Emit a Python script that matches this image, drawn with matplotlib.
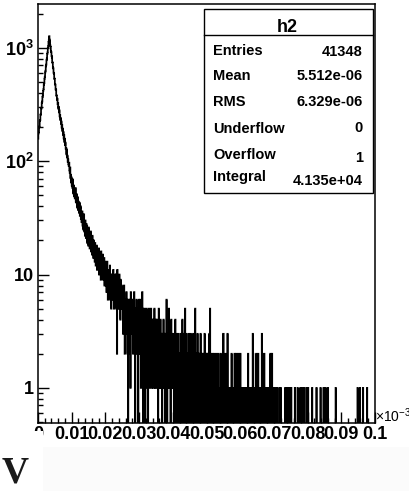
"""ROOT style log histogram h2 with its statistics box."""

import matplotlib

matplotlib.use("Agg")

import matplotlib.pyplot as plt
import numpy as np
from matplotlib.lines import Line2D
from matplotlib.patches import Rectangle
from matplotlib.ticker import FixedLocator, LogLocator, MultipleLocator, NullFormatter

W, H = 410, 491

# h2: 1000 bins between 0 and 0.1 (x10^-3), contents
HEAD_COUNTS = [
    158, 176, 181, 199, 204, 226, 231, 256, 262, 289, 297, 327, 336, 369, 381, 418, 432, 474, 489, 535,
    556, 607, 629, 688, 712, 779, 806, 882, 913, 996, 1032, 1131, 1172, 1268,
    1183, 1139, 1052, 1021, 941, 917, 849, 823, 751, 737, 671, 660, 603, 592, 538, 531, 479, 474, 430, 428, 381, 379,
    349, 356, 318, 327, 291, 302, 270, 281, 249,
    256, 231, 240, 214, 224, 198, 209, 185, 194, 171, 181, 159, 170, 148, 158, 139,
    146, 129, 131, 115, 127, 108, 112, 99, 104, 94, 91, 97, 83, 79, 88, 71, 76, 65,
    72, 61, 63, 58, 69, 52, 55, 61, 49, 57, 47, 53, 58, 44, 50, 43, 51, 39, 47, 48, 37, 44, 41, 35, 43, 33, 38, 40, 31, 36, 29, 34,
    36, 27, 33, 25, 31, 34, 24, 29, 22, 30, 26, 21, 28, 23, 27, 19, 25, 22, 18, 26, 20, 23, 17, 22, 19, 24, 16, 21, 18, 15, 22, 17, 19, 14,
    20, 15, 18, 13, 19, 16, 12, 17, 14, 18, 11, 15, 16, 12, 14, 17, 10, 13, 15, 11, 14, 9, 16, 12, 10, 13, 11, 15, 9, 12, 10, 14, 8, 11, 13,
    12, 8, 10, 7, 11, 13, 9, 6, 10, 8, 11, 7, 9, 12, 6, 8, 10, 5, 9, 7,
    10, 6, 8, 11, 7, 5, 9, 8, 6, 10, 8, 10, 5, 9, 2, 11, 6, 8, 9, 5,
    7, 10, 5, 8, 4, 9, 6, 5, 8, 6,
]
# bins 250-699, one digit per bin
TAIL_DIGITS = [
    "5736485264" "3574625046" "4265173546" "3526473504" "5362435046",
    "4253614327" "3504235104" "3254130425" "3142352134" "2413253124",
    "3214230251" "2314213203" "1242132031" "2610321251" "3120241321",
    "2130212410" "2312013212" "0213120142" "1203125102" "3120121302",
    "1203112021" "3102125102" "1023110212" "0131201210" "2110312012",
    "1201210131" "5102110121" "0112011012" "1011021011" "0121011013",
    "3101102101" "1031011010" "1101201101" "0112010121" "1010211011",
    "2101101011" "0110101101" "1012011010" "1101011320" "1011010210",
    "1102101011" "0110321010" "1201011010" "1011010102" "1011201010",
]
# bins 700-999 holding a single entry, all others empty
TAIL_ONES = [704, 709, 716, 720, 733, 738, 742, 747, 751, 762, 770, 778, 784, 790, 797, 801,
             813, 826, 838, 847, 853, 860, 883, 948, 955, 964, 976]

X_TICKS = [0.0, 0.01, 0.02, 0.03, 0.04, 0.05, 0.06, 0.07, 0.08, 0.09, 0.1]
X_TICK_LABELS = ["0", "0.01", "0.02", "0.03", "0.04", "0.05", "0.06", "0.07", "0.08", "0.09", "0.1"]
X_EXPONENT = r"$\times10^{-3}$"
Y_TICKS = [1, 10, 100, 1000]
Y_TICK_LABELS = ["1", "10", r"$\mathbf{10^{2}}$", r"$\mathbf{10^{3}}$"]

STATS_TITLE = "h2"
STATS_NAMES = ["Entries", "Mean", "RMS", "Underflow", "Overflow", "Integral"]
STATS_VALUES = ["41348", "5.512e-06", "6.329e-06", "0", "1", "4.135e+04"]


def fx(px):
    return px / W


def fy(py):
    return 1 - py / H


plt.rcParams["font.family"] = ["Liberation Sans", "DejaVu Sans"]
plt.rcParams["mathtext.fontset"] = "custom"
plt.rcParams["mathtext.rm"] = "Liberation Sans"
plt.rcParams["mathtext.bf"] = "Liberation Sans:bold"
plt.rcParams["path.simplify"] = False

tail = [int(c) for block in TAIL_DIGITS for c in block]
ones = np.zeros(300)
ones[np.array(TAIL_ONES) - 700] = 1
counts = np.concatenate([np.array(HEAD_COUNTS, float), np.array(tail, float), ones])
edges = np.linspace(0.0, 0.1, len(counts) + 1)

fig = plt.figure(figsize=(W / 100, H / 100), dpi=100)
ax = fig.add_axes([fx(38), fy(423), fx(375) - fx(38), fy(4) - fy(423)])
ax.stairs(np.where(counts > 0, counts, 1e-2), edges, color="black", lw=1.25, baseline=None)
ax.set_yscale("log")
ax.set_xlim(0, 0.1)
ax.set_ylim(0.49, 2440)

ax.xaxis.set_major_locator(FixedLocator(X_TICKS))
ax.set_xticklabels(X_TICK_LABELS, fontweight="bold")
ax.xaxis.set_minor_locator(MultipleLocator(0.002))
ax.yaxis.set_major_locator(FixedLocator(Y_TICKS))
ax.set_yticklabels(Y_TICK_LABELS, fontweight="bold")
ax.yaxis.set_minor_locator(LogLocator(base=10, subs=np.arange(2, 10)))
ax.yaxis.set_minor_formatter(NullFormatter())
ax.tick_params(which="both", direction="in", top=False, right=False, width=1.0, color="black", labelsize=13)
ax.tick_params(which="major", length=8)
ax.tick_params(which="minor", length=3.6)
ax.tick_params(axis="x", pad=2.5)
ax.tick_params(axis="y", pad=3)
for side in ax.spines.values():
    side.set_linewidth(1.1)

# statistics box
fig.add_artist(Rectangle((fx(204), fy(192.7)), fx(372.7) - fx(204), fy(9.3) - fy(192.7),
                         transform=fig.transFigure, facecolor="white", edgecolor="black", lw=1.0))
fig.add_artist(Line2D([fx(204), fx(372.7)], [fy(35), fy(35)], transform=fig.transFigure, color="black", lw=1.0))
fig.text(fx(287), fy(31.7), STATS_TITLE, ha="center", va="baseline", fontsize=13, fontweight="bold")
name_base = [55, 80, 106.5, 133, 159, 181.5]
value_base = [55.5, 80, 106.5, 132.5, 161.5, 185]
for name, value, nb, vb in zip(STATS_NAMES, STATS_VALUES, name_base, value_base):
    fig.text(fx(213), fy(nb), name, ha="left", va="baseline", fontsize=10.5, fontweight="bold")
    fig.text(fx(363), fy(vb), value, ha="right", va="baseline", fontsize=10.5, fontweight="bold")

# axis exponent
fig.text(fx(375), fy(422), X_EXPONENT, ha="left", va="baseline", fontsize=10)

# page cut-out under the plot
fig.add_artist(Rectangle((0, 0), fx(43), fy(431), transform=fig.transFigure, facecolor="white", edgecolor="none"))
fig.add_artist(Rectangle((fx(43), 0), 1 - fx(43), fy(447), transform=fig.transFigure, facecolor="#fbfbfb", edgecolor="none"))
fig.text(fx(2), fy(482.5), "V", ha="left", va="baseline", fontsize=27, fontweight="bold",
         family="Liberation Serif", color="#1a1a1a")

fig.savefig("out.png", dpi=100)
